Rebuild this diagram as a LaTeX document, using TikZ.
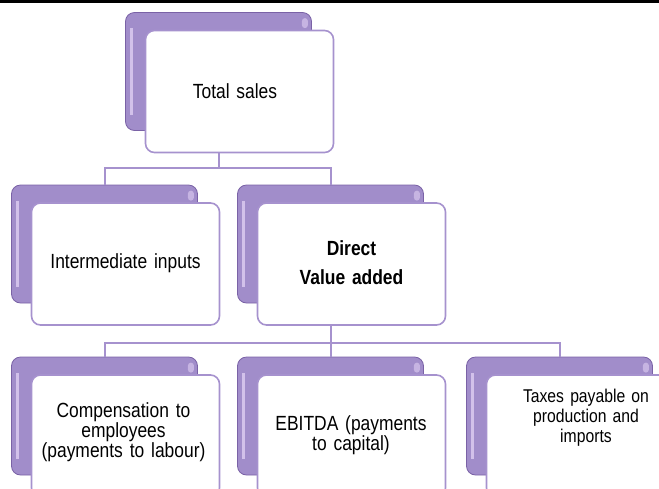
\documentclass[tikz,border=0pt]{standalone}
\usepackage{fontspec}
\setmainfont[FakeStretch=0.85]{Liberation Sans}
\usepackage{tikz}
\usetikzlibrary{shapes,arrows,shadows}

\definecolor{bpurple}{RGB}{161,141,202}
\definecolor{bpdark}{RGB}{122,98,166}
\definecolor{bphigh}{RGB}{222,206,242}
\definecolor{fborder}{RGB}{166,146,206}

\newcommand{\cardfont}[1]{\fontsize{#1}{20}\selectfont\spaceskip=0.18em plus 0.1em minus 0.05em\relax}

\begin{document}
\begin{tikzpicture}[x=1pt,y=-1pt]
	\tikzstyle{backcard}=[rectangle,rounded corners=9pt,draw=bpdark,line width=0.8pt,
	fill=bpurple,minimum width=186pt,minimum height=118pt,inner sep=0pt]
	\tikzstyle{frontcard}=[rectangle,rounded corners=9pt,draw=fborder,line width=1.6pt,
	fill=white,minimum width=188pt,minimum height=122pt,inner sep=0pt]
	\tikzstyle{cardtext}=[text width=180pt,align=center,inner sep=0pt,
	font=\cardfont{20.5}]
	\tikzstyle{link}=[draw=fborder,line width=2pt]

	\useasboundingbox (0,0) rectangle (659,488);
	\draw[line width=3pt] (0,1.5) -- (659,1.5);

	\node[backcard] (b1) at (218.5,71.5) {};
	\node[backcard] (b2) at (104.5,244) {};
	\node[backcard] (b3) at (330.5,244) {};
	\node[backcard] (b4) at (104.5,416) {};
	\node[backcard] (b5) at (330.5,416) {};
	\node[backcard] (b6) at (559.5,416) {};

	\foreach \b in {b1,b2,b3,b4,b5,b6}{
		\fill[bphigh!80!bpurple] ([xshift=5pt,yshift=-16pt]\b.north west) rectangle
		([xshift=8pt,yshift=16pt]\b.south west);
		\fill[bphigh!60!bpurple,rounded corners=3pt] ([xshift=-10pt,yshift=-6pt]\b.north east)
		rectangle ([xshift=-4pt,yshift=-16pt]\b.north east);
	}

	\node[frontcard] (f1) at (239.5,91.5) {};
	\node[frontcard] (f2) at (125.5,264) {};
	\node[frontcard] (f3) at (351.5,264) {};
	\node[frontcard] (f4) at (125.5,436) {};
	\node[frontcard] (f5) at (351.5,436) {};
	\node[frontcard] (f6) at (580.5,436) {};

	\node[cardtext] (t1) at (235,91) {Total sales};
	\node[cardtext] (t2) at (125.5,263) {Intermediate inputs};
	\node[cardtext] (t3) at (351.5,263) {\textbf{Direct}\\[9pt]\textbf{Value added}};
	\node[cardtext] (t4) at (123.5,432) {Compensation to\\employees\\(payments to labour)};
	\node[cardtext] (t5) at (351,435) {EBITDA (payments\\to capital)};
	\node[cardtext,font=\cardfont{18.5}] (t6) at (586,418) {Taxes payable on\\production and\\imports};

	\draw[link] (b1 |- f1.south) -- ++(0,15) -| (b2.north);
	\draw[link] (b1 |- f1.south) -- ++(0,15) -| (b3.north);
	\draw[link] (b3 |- f3.south) -- ++(0,17) -| (b4.north);
	\draw[link] (b3 |- f3.south) -- (b5.north);
	\draw[link] (b3 |- f3.south) -- ++(0,17) -| (b6.north);
\end{tikzpicture}
\end{document}
